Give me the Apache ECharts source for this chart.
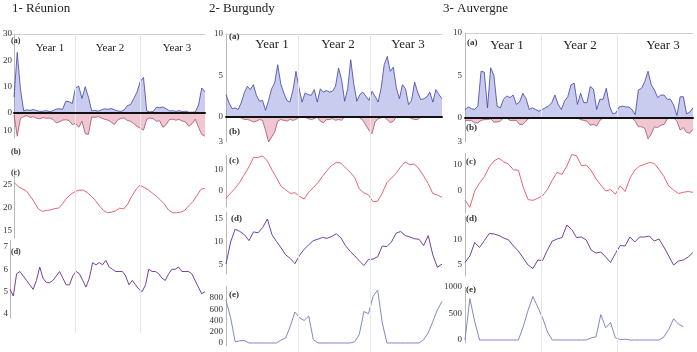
<!DOCTYPE html>
<html>
<head>
<meta charset="utf-8">
<script src="https://cdn.jsdelivr.net/npm/echarts@6/dist/echarts.min.js"></script>
<style>
  html, body { margin: 0; padding: 0; background: #fff; }
  #chart { width: 697px; height: 352px; }
</style>
</head>
<body>
<div id="chart"></div>
<script>
// ---- data ----
const titles = ['1- Réunion', '2- Burgundy', '3- Auvergne'];
const yearLabels = ['Year 1', 'Year 2', 'Year 3'];
const yearBounds = [1, 2];

// 1- Réunion
const reunionA = [6, 23, 9, 0.8, 1.2, 1.0, 1.3, 0.9, 0.6, 0.7, 0.9, 0.5, 0.8, 1.5, 1.6, 1.4, 4.5, 4.3, 3.6, 9.5,
  10.2, 5.5, 10, 6, 0.8, 1.0, 0.7, 1.2, 1.6, 1.4, 1.7, 1.2, 0.8, 0.6, 1.1, 2.8, 3.2, 5.5, 8, 12,
  13.5, 0.8, 0.4, 0.6, 2.2, 2.0, 2.3, 1.6, 0.8, 0.9, 0.6, 0.9, 0.5, 0.7, 0.3, 0.3, 0.4, 3, 9.5, 8];
const reunionB = [1, 13, 3, 2, 1.5, 2.5, 2, 3, 3.2, 2.6, 3, 2.8, 3.5, 5.5, 5, 4, 3.8, 4.2, 6.5, 5.8,
  8, 4.6, 11.5, 12, 2.2, 2.5, 2, 2.8, 3.5, 4, 5, 6.5, 4, 3, 2.8, 4.2, 4.6, 6, 7.5, 8.5,
  9.6, 3.5, 2.8, 3.2, 4.6, 4.4, 8, 6.5, 3.7, 3.5, 4, 3.6, 4.5, 5, 7.4, 6, 3.5, 8, 12, 13];
const reunionC = [25.6, 24.7, 24.2, 23.8, 22.6, 21.3, 19.8, 19.3, 19.5, 19.6, 19.9, 20.0, 21.0, 22.2, 23.0, 23.6,
  23.9, 23.9, 23.4, 22.6, 21.7, 20.5, 19.5, 19.0, 19.1, 19.4, 20.0, 19.8, 20.9, 22.6, 24.0, 25.0,
  24.5, 24.0, 23.3, 22.6, 21.8, 20.9, 19.6, 19.0, 19.0, 19.1, 19.5, 20.5, 21.4, 22.7, 24.1, 24.3];
const reunionD = [5.1, 4.8, 5.8, 5.9, 5.7, 5.5, 5.3, 5.1, 5.5, 6.1, 5.6, 5.4, 5.4, 5.5, 5.7, 5.9, 5.6, 5.3, 5.3, 5.7,
  5.9, 5.8, 5.5, 5.2, 5.6, 6.3, 6.2, 6.3, 6.2, 6.4, 6.1, 6.0, 5.9, 5.9, 5.9, 5.7, 5.3, 5.5, 5.3, 5.1,
  5.0, 5.3, 6.0, 5.9, 5.9, 5.8, 5.6, 5.5, 5.8, 6.0, 6.0, 6.1, 5.9, 5.9, 5.9, 5.8, 5.5, 5.2, 4.9, 5.0];

// 2- Burgundy
const burgundyA = [2.7, 1.7, 1.0, 1.1, 0.9, 1.7, 2.9, 3.7, 3.3, 3.9, 2.6, 1.9, 2.0, 0.8, 2.0, 3.4, 4.1, 6.3, 4.0, 2.9,
  2.0, 1.8, 3.2, 5.5, 3.5, 1.8, 2.9, 2.7, 2.6, 3.3, 1.8, 3.4, 3.0, 3.2, 3.0, 3.1, 3.7, 5.9, 4.5, 1.9,
  3.4, 6.9, 4.0, 1.9, 2.7, 3.0, 2.5, 2.0, 3.1, 2.5, 1.8, 3.5, 6.3, 7.3, 5.5, 6.0, 3.5, 2.2, 3.9, 3.4,
  1.5, 2.0, 4.2, 3.0, 2.1, 2.2, 2.4, 3.0, 1.8, 3.3, 2.7, 2.2];
const burgundyB = [0, 0, 0, 0, 0, 0.1, 0.3, 0.3, 0.4, 0.6, 0.5, 0.3, 0.4, 1.6, 3.0, 2.4, 1.8, 0.5, 0.3, 0.4,
  0.5, 0.3, 0.4, 0.3, 0, 0, 0, 0.2, 0.3, 0.2, 0, 0.5, 0.7, 0.3, 0.3, 0.2, 0.4, 0.3, 0.4, 0,
  0, 0, 0, 0, 0.1, 0.4, 1.0, 1.6, 2.0, 0.6, 0.2, 0.1, 0, 0.3, 0.7, 0.5, 0, 0, 0, 0,
  0, 0.2, 0.3, 0.3, 0, 0, 0, 0, 0, 0, 0, 0];
const burgundyC = [-3.5, -1.0, 1.3, 4.2, 7.9, 11.5, 16, 16, 16.7, 14.3, 10, 6.3, 2.2, 0.6, -1.1, -0.8,
  -2.6, -3.8, -0.5, 1.6, 4.0, 7.0, 9.8, 12.2, 13.6, 13.3, 11, 9.0, 6.4, 1.0, -0.9, -1.8,
  -5.1, -4.8, -1.0, 4.0, 6.2, 8.4, 11.5, 13.8, 12.5, 12.9, 10.5, 7.2, 3.5, -1.2, -1.9, -3.0];
const burgundyD = [5.2, 10, 12.8, 12.3, 11.6, 10.3, 12.2, 12.0, 13.2, 15.0, 11.6, 10.1, 8.7, 7.2, 6.4, 5.3,
  7.1, 8.4, 9.4, 10.3, 10.6, 11.0, 10.8, 11.2, 11.8, 10.9, 9.2, 8.0, 7.0, 5.9, 4.9, 6.2,
  6.3, 6.8, 9.1, 9.0, 10.0, 11.9, 12.3, 11.4, 11.1, 10.7, 10.6, 9.2, 11.4, 7.2, 4.5, 5.2];
const burgundyE = [760, 450, 20, 40, 45, 0, 0, 0, 0, 0, 0, 0, 55, 90, 300, 550,
  450, 400, 480, 60, 0, 0, 0, 0, 0, 0, 0, 0, 20, 150, 560, 520,
  830, 940, 360, 0, 0, 0, 0, 0, 0, 0, 0, 60, 180, 380, 590, 740];

// 3- Auvergne
const auvergneA = [1.0, 1.3, 1.1, 1.0, 1.4, 5.5, 5.4, 1.2, 5.9, 5.0, 1.4, 1.2, 2.2, 2.6, 2.4, 2.7, 1.6, 1.9, 2.9, 2.3,
  1.0, 1.2, 1.0, 0.8, 1.0, 1.2, 1.4, 1.8, 2.7, 1.6, 1.0, 2.0, 2.5, 3.9, 4.1, 1.6, 2.9, 1.8, 1.8, 3.7,
  3.4, 1.0, 2.2, 2.2, 3.5, 1.4, 0.5, 0.6, 1.3, 1.4, 1.3, 1.3, 1.0, 0.4, 3.3, 3.5, 4.3, 5.5, 3.9, 3.3,
  2.4, 2.7, 2.7, 2.2, 2.2, 1.5, 0.3, 2.5, 2.5, 0.5, 0.7, 1.2];
const auvergneB = [0.3, 0.3, 0.3, 0.6, 0.6, 0.3, 0.2, 0.2, 0.1, 0.5, 0.5, 0.4, 0, 0, 0.3, 0.3, 0.3, 0.8, 0.8, 0.4,
  0, 0, 0, 0, 0, 0, 0, 0, 0, 0, 0, 0, 0, 0, 0, 0, 0.2, 0.3, 0.4, 0.9,
  0.8, 1.0, 0.3, 0, 0, 0, 0, 0, 0, 0, 0, 0, 0, 0.4, 1.1, 1.1, 1.3, 2.6, 2.0, 1.1,
  1.2, 0.9, 0.8, 0.1, 0, 0, 0.4, 1.5, 1.2, 1.8, 1.9, 1.4];
const auvergneC = [-3.5, -6.3, 0, 3.1, 5.5, 9.3, 11.6, 12.6, 11.2, 10.3, 8.1, 8.0, 1.5, -3.3, -3.6, -2.8,
  -1.8, 0.6, 4.2, 7.2, 6.4, 9.6, 14, 13.6, 9.7, 10.0, 7.9, 4.7, 2.3, 0, 0.5, -1.2,
  2.0, -0.2, 4.9, 8.0, 9.6, 10.2, 11.0, 10.6, 8.3, 5.6, 1.9, 0.4, -1.0, -0.5, -0.2, -0.5];
const auvergneD = [5.5, 6.8, 9.5, 8.5, 9.9, 11.3, 11.2, 10.9, 10.4, 10.0, 8.8, 7.8, 6.4, 5.0, 4.3, 6.0,
  5.9, 8.0, 9.8, 10.2, 10.5, 13, 12.1, 10.5, 10.6, 10.0, 8.0, 7.4, 7.6, 6.6, 5.5, 7.3,
  8.9, 8.8, 10.6, 9.6, 10.6, 10.6, 10.8, 9.8, 10.2, 8.6, 6.8, 5.0, 5.8, 6.0, 6.6, 7.5];
const auvergneE = [0, 780, 350, 0, 0, 0, 0, 0, 0, 0, 0, 0, 250, 560, 820, 620,
  420, 150, 0, 0, 0, 0, 0, 0, 0, 0, 40, 60, 480, 230, 330, 40,
  10, 15, 0, 0, 0, 0, 0, 0, 0, 60, 200, 400, 300, 250, null, null];

// tick labels shown on each y axis
const ticksRA = [0, 10, 20, 30], ticksRB = [10], ticksRC = [15, 20, 25], ticksRD = [4, 5, 6, 7];
const ticksBA = [0, 5, 10], ticksBB = [3], ticksBC = [0, 10], ticksBD = [5, 10, 15], ticksBE = [0, 200, 400, 600, 800];
const ticksAA = [0, 5, 10], ticksAB = [3], ticksAC = [0, 10], ticksAD = [5, 10], ticksAE = [0, 500, 1000];

// ---- styles ----
const FONT = '"Liberation Serif", "DejaVu Serif", serif';
const BLUE = { color: '#3d43a0', fill: 'rgba(135,140,220,0.45)' };
const PINK = { color: '#a8506a', fill: 'rgba(220,120,145,0.42)' };
const RED = '#e8666f', PURPLE = '#7440a0', SLATE = '#8189c4';

const grid = [], xAxis = [], yAxis = [], series = [], graphic = [];

function addBackground(c) {
  const idx = grid.length;
  grid.push({ left: c.left, top: c.bgTop, width: c.width, height: c.bgBottom - c.bgTop });
  xAxis.push({ type: 'value', gridIndex: idx, min: 0, max: 3, position: 'top',
    axisLine: { onZero: false, lineStyle: { color: '#d0d0d0', width: 1 } },
    axisTick: { show: false }, axisLabel: { show: false }, splitLine: { show: false } });
  yAxis.push({ type: 'value', gridIndex: idx, min: 0, max: 1, show: false });
  series.push({ type: 'line', xAxisIndex: idx, yAxisIndex: idx, data: [], silent: true,
    markLine: { silent: true, symbol: 'none', label: { show: false },
      lineStyle: { color: '#e8e8e8', type: 'solid', width: 1 },
      data: yearBounds.map(v => ({ xAxis: v })) } });
}

function addPanel(c, p) {
  const idx = grid.length;
  grid.push({ left: c.left, width: c.width, top: p.top, height: p.height });
  xAxis.push({ type: 'category', gridIndex: idx, data: p.data.map((_, i) => i), boundaryGap: false,
    show: !!p.zeroLine, z: 5,
    axisLine: { onZero: false, lineStyle: { color: '#111', width: 2 } },
    axisTick: { show: false }, axisLabel: { show: false }, splitLine: { show: false } });
  yAxis.push({ type: 'value', gridIndex: idx, min: p.min, max: p.max, interval: p.step, inverse: !!p.inverse,
    axisLine: { show: true, lineStyle: { color: '#b8b8b8', width: 1 } },
    axisTick: { show: false }, splitLine: { show: false },
    axisLabel: { margin: c.labelMargin, fontSize: 9, fontFamily: FONT, color: '#333',
      formatter: v => {
        const t = p.ticks.find(t => Math.abs(t - v) < 1e-6);
        return t === undefined ? '' : String(t);
      } } });
  const s = { type: 'line', xAxisIndex: idx, yAxisIndex: idx, data: p.data, symbol: 'none', silent: true,
    lineStyle: { color: p.color, width: p.lineWidth || 1 } };
  if (p.fill) s.areaStyle = { color: p.fill, opacity: 1 };
  series.push(s);
}

function text(str, x, y, size, opts) {
  opts = opts || {};
  graphic.push({ type: 'text', silent: true, z: 20,
    style: { text: str, x: x, y: y, fill: opts.color || '#222',
      font: (opts.bold ? 'bold ' : '') + size + 'px ' + FONT,
      align: opts.align || 'left', verticalAlign: 'middle',
      textAlign: opts.align || 'left', textVerticalAlign: 'middle' } });
}

// ---- layout per column ----
const columns = [
  { title: titles[0], titleX: 12, left: 10, width: 195, bgTop: 34, bgBottom: 333, labelMargin: 2,
    yearFont: 11, yearY: 48, yearX: [50, 110, 177], tagFont: 8,
    tags: [['(a)', 11, 41], ['(b)', 11, 152], ['(c)', 11, 173], ['(d)', 11, 252]],
    panels: [
      { data: reunionA, top: 34, height: 79, min: 0, max: 30, step: 10, ticks: ticksRA, color: BLUE.color, fill: BLUE.fill, lineWidth: 0.8, zeroLine: true },
      { data: reunionB, top: 113, height: 25, min: 0, max: 14, step: 1, ticks: ticksRB, inverse: true, color: PINK.color, fill: PINK.fill, lineWidth: 0.8 },
      { data: reunionC, top: 169, height: 69, min: 13.5, max: 28.5, step: 0.5, ticks: ticksRC, color: RED },
      { data: reunionD, top: 240.3, height: 78, min: 3.8, max: 7.3, step: 0.1, ticks: ticksRD, color: PURPLE, lineWidth: 1 }
    ] },
  { title: titles[1], titleX: 209, left: 226, width: 216, bgTop: 34, bgBottom: 352, labelMargin: 3,
    yearFont: 13, yearY: 45, yearX: [272, 338, 408], tagFont: 9,
    tags: [['(a)', 229, 37], ['(b)', 229, 132], ['(c)', 229, 161], ['(d)', 231, 219], ['(e)', 229, 295]],
    panels: [
      { data: burgundyA, top: 34, height: 83, min: 0, max: 10, step: 5, ticks: ticksBA, color: BLUE.color, fill: BLUE.fill, lineWidth: 0.8, zeroLine: true },
      { data: burgundyB, top: 117, height: 25, min: 0, max: 3, step: 1, ticks: ticksBB, inverse: true, color: PINK.color, fill: PINK.fill, lineWidth: 0.8 },
      { data: burgundyC, top: 155.3, height: 51.5, min: -7.5, max: 17, step: 0.5, ticks: ticksBC, color: RED },
      { data: burgundyD, top: 212.1, height: 62.1, min: 3, max: 16.5, step: 0.5, ticks: ticksBD, color: PURPLE, lineWidth: 1 },
      { data: burgundyE, top: 286.75, height: 59.06, min: -50, max: 1000, step: 50, ticks: ticksBE, color: SLATE }
    ] },
  { title: titles[2], titleX: 443, left: 465, width: 228, bgTop: 33, bgBottom: 352, labelMargin: 3,
    yearFont: 13, yearY: 46, yearX: [507, 580, 663], tagFont: 9,
    tags: [['(a)', 467, 43], ['(b)', 466, 128], ['(c)', 466, 162], ['(d)', 466, 219], ['(e)', 466, 290]],
    panels: [
      { data: auvergneA, top: 33, height: 85, min: 0, max: 10, step: 5, ticks: ticksAA, color: BLUE.color, fill: BLUE.fill, lineWidth: 0.8, zeroLine: true },
      { data: auvergneB, top: 118, height: 24, min: 0, max: 3, step: 1, ticks: ticksAB, inverse: true, color: PINK.color, fill: PINK.fill, lineWidth: 0.8 },
      { data: auvergneC, top: 153.3, height: 59.8, min: -8.5, max: 14.5, step: 0.5, ticks: ticksAC, color: RED },
      { data: auvergneD, top: 216, height: 60, min: 2.8, max: 14.8, step: 0.2, ticks: ticksAD, color: PURPLE, lineWidth: 1 },
      { data: auvergneE, top: 287, height: 55.65, min: -50, max: 1000, step: 50, ticks: ticksAE, color: SLATE }
    ] }
];

columns.forEach(c => {
  addBackground(c);
  c.panels.forEach(p => addPanel(c, p));
  text(c.title, c.titleX, 9, 13);
  yearLabels.forEach((y, i) => text(y, c.yearX[i], c.yearY, c.yearFont, { align: 'center' }));
  c.tags.forEach(t => text(t[0], t[1], t[2], c.tagFont, { bold: true, color: '#333' }));
});

const chart = echarts.init(document.getElementById('chart'), null, { renderer: 'canvas' });
chart.setOption({
  animation: false,
  backgroundColor: '#fff',
  grid: grid,
  xAxis: xAxis,
  yAxis: yAxis,
  series: series,
  graphic: graphic
});
window.onresize = () => chart.resize();
</script>
</body>
</html>
